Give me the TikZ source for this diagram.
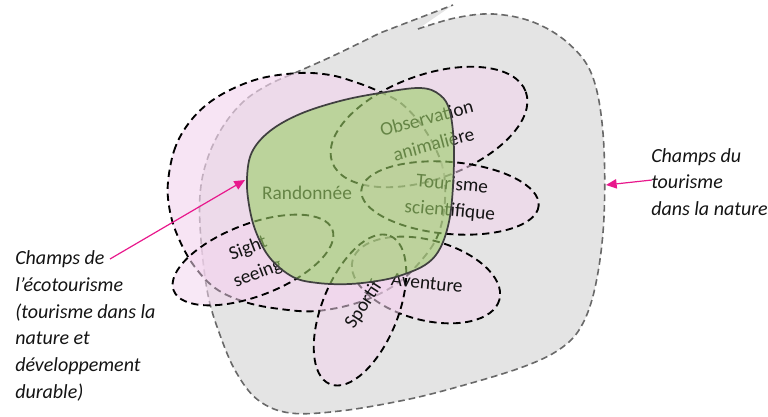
\documentclass[tikz,border=0pt]{standalone}
\usepackage{fontspec}
\setmainfont{Carlito}
\usetikzlibrary{arrows.meta}
\definecolor{graybg}{RGB}{228,228,228}
\definecolor{grayline}{RGB}{105,105,105}
\definecolor{pinkfill}{RGB}{243,213,238}
\definecolor{greenfill}{RGB}{155,207,103}
\definecolor{greenline}{RGB}{64,64,64}
\definecolor{magentaarrow}{RGB}{232,24,140}
\definecolor{textblack}{RGB}{20,20,20}
\tikzset{
  grayfill/.style={fill=graybg},
  grayedge/.style={draw=grayline, line width=1.2pt, dash pattern=on 5pt off 3pt},
  pinkblob/.style={fill=pinkfill, fill opacity=0.65, draw=black, draw opacity=1, line width=1.4pt, dash pattern=on 5.5pt off 3.5pt},
  pinkell/.style={fill=pinkfill, fill opacity=0.55, draw=black, draw opacity=1, line width=1.4pt, dash pattern=on 5.5pt off 3.5pt},
  greenblob/.style={fill=greenfill, fill opacity=0.6, draw=greenline, draw opacity=1, line width=1.3pt},
  lbl/.style={font=\fontsize{14.5}{20}\selectfont, text=textblack, align=center, inner sep=0pt},
  side/.style={font=\fontsize{15}{20}\selectfont\itshape, text=textblack, align=left, inner sep=0pt, anchor=west},
  pinkarrow/.style={draw=magentaarrow, line width=0.9pt, -{Triangle[length=8pt,width=7pt]}}
}
\begin{document}
\begin{tikzpicture}[x=0.75pt,y=-0.75pt]
\useasboundingbox (0,0) rectangle (768,417);
% gray blob: champs du tourisme dans la nature
\path[grayfill] (453,5) -- (418,29) -- plot[smooth, tension=0.6] coordinates {(418,29) (455,18) (493,14) (533,22) (568,43) (592,75) (603,133) (604,217) (596,283) (582,325) (560,349) (520,368) (450,389) (400,401) (340,411) (290,413) (258,400) (236,372) (220,335) (208,295) (201,240) (200,195) (207,160) (222,128) (243,102) (268,85) (297,72) (335,55) (380,33)} -- cycle;
\path[grayedge] plot[smooth, tension=0.6] coordinates {(418,29) (455,18) (493,14) (533,22) (568,43) (592,75) (603,133) (604,217) (596,283) (582,325) (560,349) (520,368) (450,389) (400,401) (340,411) (290,413) (258,400) (236,372) (220,335) (208,295) (201,240) (200,195) (207,160) (222,128) (243,102) (268,85) (297,72) (335,55) (380,33)} -- (453,5);
% big pink blob: ecotourisme
\path[pinkblob] plot[smooth cycle, tension=0.6] coordinates {(168,182) (174,151) (186,127) (205,106) (230,90) (262,78) (300,73) (330,75) (355,82) (378,91) (402,104) (425,130) (442,165) (445,200) (438,235) (420,262) (395,285) (360,302) (317,311) (280,309) (245,302) (215,288) (192,263) (176,232) (169,206)};
% activity ellipses
\path[pinkell, rotate around={21:(253,260)}] (253,260) ellipse [x radius=85, y radius=36];
\path[pinkell, rotate around={20:(429,127)}] (429,127) ellipse [x radius=103, y radius=52];
\path[pinkell, rotate around={-5:(450,198)}] (450,198) ellipse [x radius=89, y radius=36];
\path[pinkell, rotate around={-15:(426,280)}] (426,280) ellipse [x radius=76, y radius=40];
\path[pinkell, rotate around={68:(360,310)}] (360,310) ellipse [x radius=80, y radius=38];
% labels
\node[lbl] (randonnee) at (307,193) {Randonnée};
\node[lbl, rotate=15] (obs) at (430,131) {Observation\\animalière};
\node[lbl, rotate=-5] (tour) at (451,198) {Tourisme\\scientifique};
\node[lbl, rotate=21] (sight) at (253,261) {Sight\\seeing};
\node[lbl, rotate=-6] (aventure) at (427,283) {Aventure};
\node[lbl, rotate=57] (sportif) at (364,305) {Sportif};
% green blob: randonnee
\path[greenblob] plot[smooth cycle, tension=0.6] coordinates {(247,178) (252,152) (270,131) (300,114) (340,101) (380,93) (420,88) (440,95) (450,112) (454,150) (452,200) (447,230) (438,252) (425,265) (405,274) (383,280) (350,284) (318,283) (293,277) (270,258) (256,232) (249,205)};
% side labels
\node[side] (ecolabel) at (15,326) {Champs de\\l’écotourisme\\(tourisme dans la\\nature et\\développement\\durable)};
\node[side] (naturelabel) at (651,182) {Champs du\\tourisme\\dans la nature};
\coordinate (ecostart) at (110,259);
\coordinate (ecotip) at (245,180);
\coordinate (naturestart) at (652,180);
\coordinate (naturetip) at (606,185);
\draw[pinkarrow] (ecostart) -- (ecotip);
\draw[pinkarrow] (naturestart) -- (naturetip);
\end{tikzpicture}
\end{document}
